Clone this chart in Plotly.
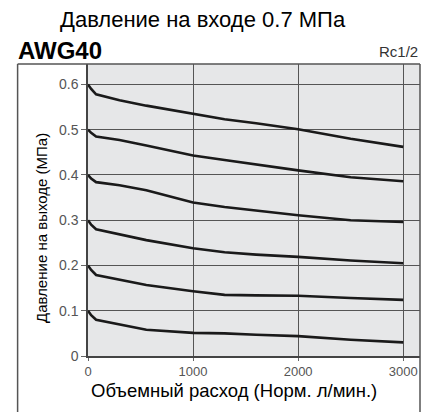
import plotly.graph_objects as go

flow = [0, 30, 77, 300, 555, 1000, 1300, 1600, 2000, 2500, 3000]
p06 = [0.600, 0.590, 0.578, 0.565, 0.553, 0.536, 0.523, 0.514, 0.501, 0.480, 0.462]
p05 = [0.500, 0.493, 0.485, 0.477, 0.465, 0.443, 0.433, 0.423, 0.410, 0.395, 0.386]
p04 = [0.400, 0.392, 0.384, 0.377, 0.366, 0.339, 0.329, 0.321, 0.311, 0.300, 0.296]
p03 = [0.300, 0.290, 0.280, 0.269, 0.256, 0.238, 0.229, 0.224, 0.219, 0.211, 0.205]
p02 = [0.200, 0.190, 0.179, 0.168, 0.157, 0.143, 0.135, 0.134, 0.133, 0.128, 0.124]
p01 = [0.100, 0.090, 0.080, 0.069, 0.058, 0.051, 0.050, 0.047, 0.044, 0.036, 0.030]
series = [p06, p05, p04, p03, p02, p01]

x_ticks = [0, 1000, 2000, 3000]
x_labels = ["0", "1000", "2000", "3000"]
y_ticks = [0, 0.1, 0.2, 0.3, 0.4, 0.5, 0.6]
y_labels = ["0", "0.1", "0.2", "0.3", "0.4", "0.5", "0.6"]

title = "Давление на входе 0.7 МПа"
model = "AWG40"
port = "Rc1/2"
x_title = "Объемный расход (Норм. л/мин.)"
y_title = "Давление на выходе (МПа)"

OFF = 8  # default page body margin
W, H = 434 - OFF, 412 - OFF
L = 88 - OFF
T = 63.5 - OFF
R = W - (420.5 - OFF)
B = H - (356.5 - OFF)
pw, ph = W - L - R, H - T - B

def px(x):
    return (x - OFF - L) / pw

def py(y):
    return (H - B - (y - OFF)) / ph

FONT = "Liberation Sans, Arial, sans-serif"

fig = go.Figure()
for s in series:
    fig.add_trace(go.Scatter(x=flow, y=s, mode="lines",
                             line=dict(color="#1a1a1a", width=2.6),
                             showlegend=False, hoverinfo="skip"))

fig.update_layout(
    width=W, height=H,
    margin=dict(l=L, r=R, t=T, b=B),
    paper_bgcolor="white",
    plot_bgcolor="#e6e7e8",
    font=dict(family=FONT, color="#000"),
    xaxis=dict(range=[0, 3160], tickvals=x_ticks, ticktext=x_labels,
               showgrid=True, gridcolor="#555555", gridwidth=1.2,
               zeroline=False, showline=True, linecolor="#444", linewidth=1.5,
               ticks="outside", ticklen=3, tickcolor="#666",
               tickfont=dict(size=13, color="#555", family=FONT)),
    yaxis=dict(range=[0, 0.645], tickvals=y_ticks, ticktext=y_labels,
               showgrid=True, gridcolor="#555555", gridwidth=1.2,
               zeroline=False, showline=True, linecolor="#444", linewidth=1.5,
               ticks="outside", ticklen=5, tickcolor="#666",
               tickfont=dict(size=14, color="#555", family=FONT)),
    shapes=[
        dict(type="line", xref="paper", yref="paper",
             x0=px(17.5), x1=px(420.5), y0=py(63.5), y1=py(63.5),
             line=dict(color="#555", width=1.5)),
        dict(type="line", xref="paper", yref="paper",
             x0=px(17.5), x1=px(17.5), y0=py(63.5), y1=py(413),
             line=dict(color="#555", width=1.5)),
        dict(type="line", xref="paper", yref="paper",
             x0=px(420.5), x1=px(420.5), y0=py(63.5), y1=py(413),
             line=dict(color="#555", width=1.5)),
    ],
    annotations=[
        dict(text=title, xref="paper", yref="paper", x=px(203), y=py(19),
             xanchor="center", yanchor="middle", showarrow=False,
             font=dict(size=22, color="#000", family=FONT)),
        dict(text="<b>" + model + "</b>", xref="paper", yref="paper", x=px(16), y=py(50),
             xanchor="left", yanchor="middle", showarrow=False,
             font=dict(size=24, color="#000", family=FONT)),
        dict(text=port, xref="paper", yref="paper", x=px(420), y=py(51),
             xanchor="right", yanchor="middle", showarrow=False,
             font=dict(size=15, color="#333", family=FONT)),
        dict(text=x_title, xref="paper", yref="paper", x=px(234), y=py(391),
             xanchor="center", yanchor="middle", showarrow=False,
             font=dict(size=18.5, color="#000", family=FONT)),
        dict(text=y_title, xref="paper", yref="paper", x=px(42), y=py(228),
             xanchor="center", yanchor="middle", showarrow=False, textangle=-90,
             font=dict(size=15, color="#000", family=FONT)),
    ],
)

fig.write_html("out.html")
